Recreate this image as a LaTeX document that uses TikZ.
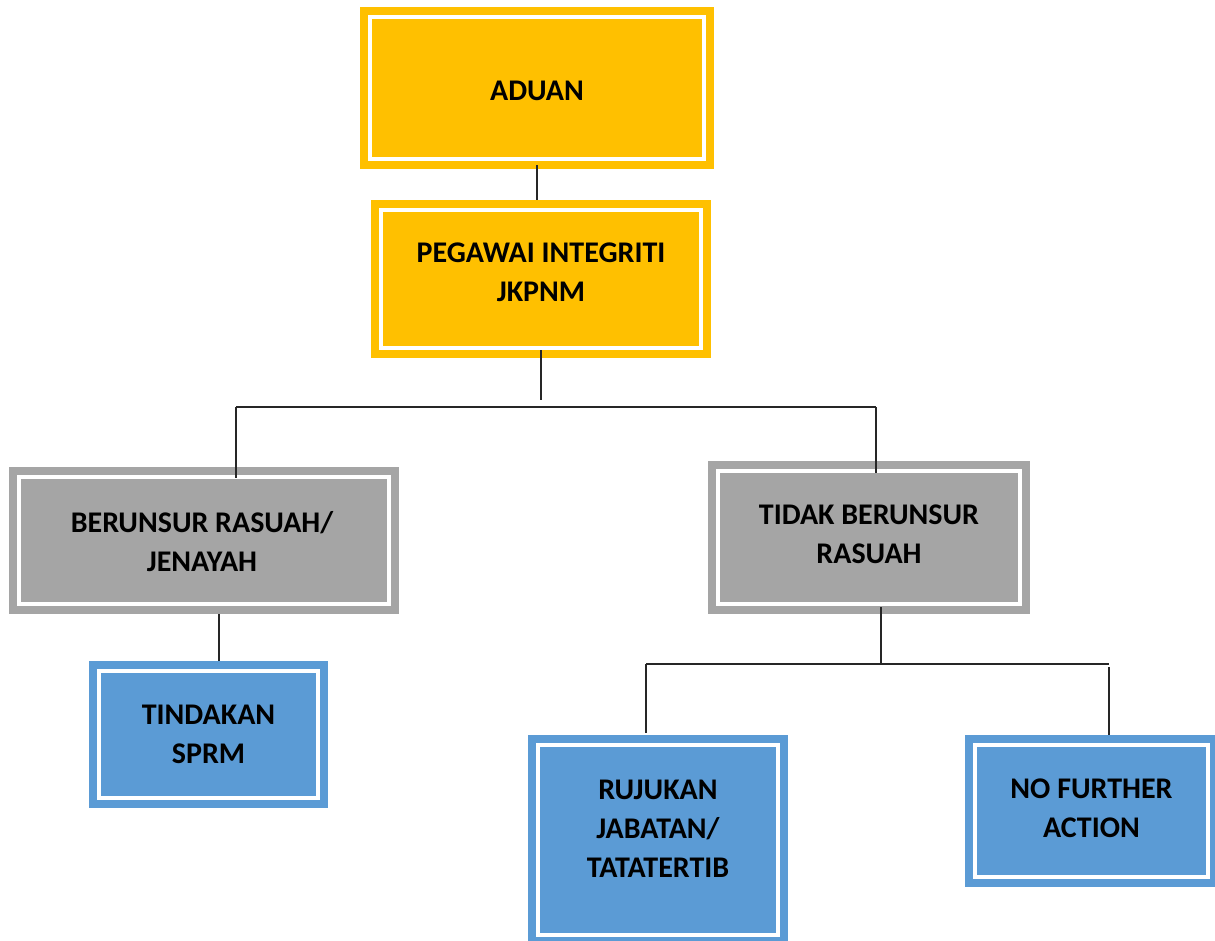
\documentclass[tikz,border=0pt]{standalone}
\usepackage{fontspec}
\setmainfont{Carlito}
\usetikzlibrary{calc}
\definecolor{goldb}{HTML}{FFC000}
\definecolor{grayb}{HTML}{A5A5A5}
\definecolor{blueb}{HTML}{5B9BD5}
\tikzset{
  box/.style={rectangle, draw=#1, fill=#1, line width=8pt, double=white,
    double distance=4pt, inner sep=0pt, outer sep=10pt},
  txt/.style={font=\fontsize{30}{39}\selectfont\bfseries, align=center,
    inner sep=0pt, text=black},
  conn/.style={draw=black!85, line width=1.3pt}
}
\begin{document}
\begin{tikzpicture}[x=1pt,y=-1pt]
\useasboundingbox (0,0) rectangle (1215,941);
\fill[white] (0,0) rectangle (1215,941);
% boxes
\node[box=goldb, minimum width=334pt, minimum height=142pt] (aduan) at (537,88) {};
\node[box=goldb, minimum width=320pt, minimum height=138pt] (pegawai) at (541,279) {};
\node[box=grayb, minimum width=370pt, minimum height=127pt] (berunsur) at (204,540.5) {};
\node[box=grayb, minimum width=302pt, minimum height=133pt] (tidak) at (869,537.5) {};
\node[box=blueb, minimum width=219pt, minimum height=127pt] (tindakan) at (208.5,734.5) {};
\node[box=blueb, minimum width=240pt, minimum height=190pt] (rujukan) at (658,840) {};
\node[box=blueb, minimum width=233pt, minimum height=132pt] (nofurther) at (1091.5,811) {};
% texts
\node[txt] (taduan) at ($(aduan.center)+(0,3)$) {ADUAN};
\node[txt] (tpegawai) at ($(pegawai.center)+(0,-6.5)$) {PEGAWAI INTEGRITI\\JKPNM};
\node[txt] (tberunsur) at ($(berunsur.center)+(-2,1.5)$) {BERUNSUR RASUAH/\\JENAYAH};
\node[txt] (ttidak) at ($(tidak.center)+(0,-3)$) {TIDAK BERUNSUR\\RASUAH};
\node[txt] (ttindakan) at ($(tindakan.center)+(0,0)$) {TINDAKAN\\SPRM};
\node[txt] (trujukan) at ($(rujukan.center)+(0,-11)$) {RUJUKAN\\JABATAN/\\TATATERTIB};
\node[txt] (tnofurther) at ($(nofurther.center)+(0,-2.5)$) {NO FURTHER\\ACTION};
% junction coordinates
\coordinate (j1) at (541,400);
\coordinate (hL) at (236,407);
\coordinate (hR) at (876,407);
\coordinate (bs) at (219,613);
\coordinate (j2) at (881,664);
\coordinate (hL2) at (646,664);
\coordinate (hR2) at (1109,664);
% connectors
\draw[conn] ([yshift=4pt]aduan.south) -- (aduan.south |- pegawai.north);
\draw[conn] ([yshift=8pt]pegawai.south) -- (pegawai.south |- j1);
\draw[conn] (hL) -- (hR);
\draw[conn] (hL) -- ([yshift=-11pt]hL |- berunsur.north);
\draw[conn] (hR) -- ([yshift=-12pt]hR |- tidak.north);
\draw[conn] (berunsur.south -| bs) -- (bs |- tindakan.north);
\draw[conn] ([yshift=7pt]tidak.south -| j2) -- (j2);
\draw[conn] (hL2) -- (hR2);
\draw[conn] (hL2) -- ([yshift=2pt]hL2 |- rujukan.north);
\draw[conn] ([yshift=-3pt]hR2) -- (hR2 |- nofurther.north);
\end{tikzpicture}
\end{document}
